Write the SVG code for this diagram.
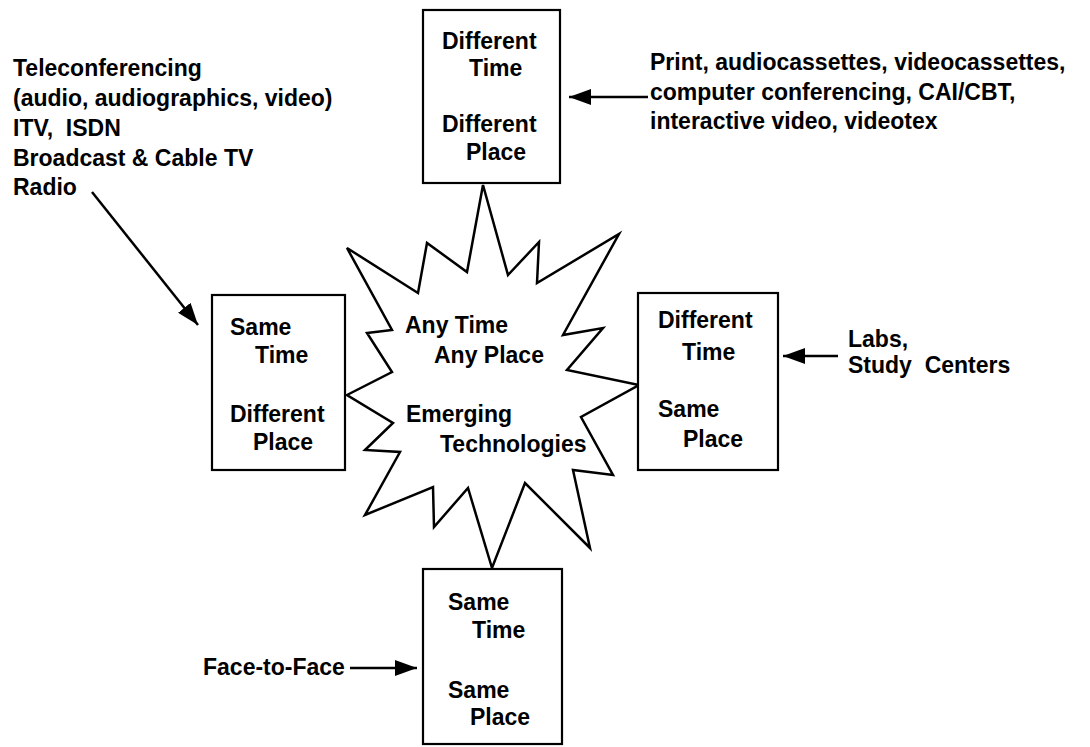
<svg xmlns="http://www.w3.org/2000/svg" width="1090" height="747" viewBox="0 0 1090 747">
<defs>
<style>
.box{fill:#fff;stroke:#000;stroke-width:2.2}
.star{fill:#fff;stroke:#000;stroke-width:2.5;stroke-linejoin:miter}
text{font-family:"Liberation Sans",Arial,sans-serif;font-weight:bold;font-size:23px;fill:#000}
.conn{stroke:#000;stroke-width:2.5;fill:none}
</style>
<marker id="ah" viewBox="0 0 22 16" refX="22" refY="8" markerWidth="22" markerHeight="16" markerUnits="userSpaceOnUse" orient="auto">
<path d="M0,0 L22,8 L0,16 z" fill="#000"/>
</marker>
</defs>
<rect width="1090" height="747" fill="#fff"/>

<g id="star">
<polygon class="star" points="483,185 508,275 539,242 537,283 619,234 563,335 603,328 567,370 639,385 581,417 613,475 573,470 590,548 525,483 492,568 468,488 434,527 433,487 365,515 400,452 365,450 393,423 347,395 392,372 367,333 392,330 347,248 418,293 427,243 467,272"/>
<text x="405" y="333">Any Time</text>
<text x="434" y="363">Any Place</text>
<text x="406" y="422">Emerging</text>
<text x="440" y="452">Technologies</text>
</g>

<g id="box-top">
<rect class="box" x="423" y="10" width="137" height="173"/>
<text x="442" y="49">Different</text>
<text x="469" y="76">Time</text>
<text x="442" y="132">Different</text>
<text x="466" y="160">Place</text>
</g>

<g id="box-left">
<rect class="box" x="212" y="295" width="133" height="175"/>
<text x="230" y="335">Same</text>
<text x="255" y="363">Time</text>
<text x="230" y="422">Different</text>
<text x="253" y="450">Place</text>
</g>

<g id="box-right">
<rect class="box" x="638" y="293" width="140" height="177"/>
<text x="658" y="328">Different</text>
<text x="682" y="360">Time</text>
<text x="658" y="417">Same</text>
<text x="683" y="447">Place</text>
</g>

<g id="box-bottom">
<rect class="box" x="423" y="569" width="139" height="175"/>
<text x="448" y="610">Same</text>
<text x="472" y="638">Time</text>
<text x="448" y="698">Same</text>
<text x="470" y="725">Place</text>
</g>

<g id="label-left">
<text x="13" y="76">Teleconferencing</text>
<text x="13" y="106">(audio, audiographics, video)</text>
<text x="13" y="136" xml:space="preserve">ITV,  ISDN</text>
<text x="13" y="166">Broadcast &amp; Cable TV</text>
<text x="13" y="195">Radio</text>
</g>

<g id="label-topright">
<text x="650" y="70">Print, audiocassettes, videocassettes,</text>
<text x="650" y="100">computer conferencing, CAI/CBT,</text>
<text x="650" y="129">interactive video, videotex</text>
</g>

<g id="label-right">
<text x="848" y="347">Labs,</text>
<text x="848" y="373" xml:space="preserve">Study  Centers</text>
</g>

<g id="label-bottom">
<text x="203" y="675">Face-to-Face</text>
</g>

<g id="connectors">
<line class="conn" x1="92" y1="192" x2="198" y2="325" marker-end="url(#ah)"/>
<line class="conn" x1="648" y1="97" x2="569" y2="97" marker-end="url(#ah)"/>
<line class="conn" x1="838" y1="356" x2="783" y2="356" marker-end="url(#ah)"/>
<line class="conn" x1="350" y1="668" x2="417" y2="668" marker-end="url(#ah)"/>
</g>
</svg>
